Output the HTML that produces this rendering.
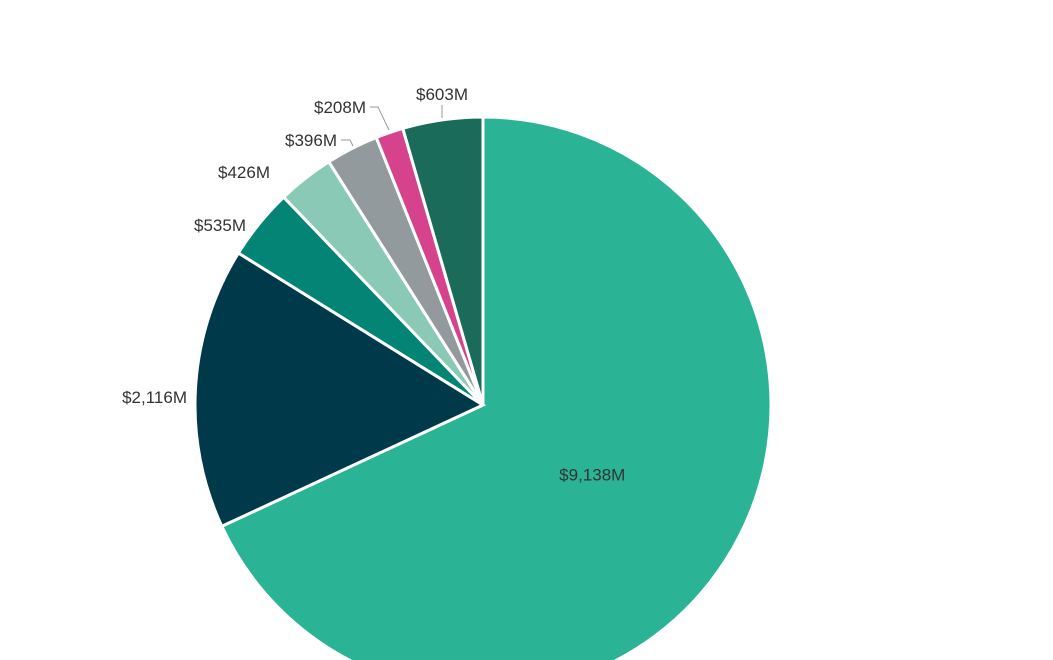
<!DOCTYPE html>
<html><head><meta charset="utf-8"><style>
body{margin:0;background:#fff;width:1053px;height:660px;overflow:hidden;font-family:"Liberation Sans",sans-serif}
svg{display:block}
</style></head><body>
<svg id="chart" width="1053" height="660" viewBox="0 0 1053 660"></svg>
<script>
const categories = ["A","B","C","D","E","F","G"];
const values = [9138, 2116, 535, 426, 396, 208, 603];
const labels = ["$9,138M","$2,116M","$535M","$426M","$396M","$208M","$603M"];
const colors = ["#2bb396","#003a4a","#038474","#8bc9b7","#939a9e","#d6438c","#1b6b5a"];
const cx = 483, cy = 405, r = 288;
const NS = "http://www.w3.org/2000/svg";
const svg = document.getElementById("chart");
const total = values.reduce((a,b)=>a+b,0);
function pt(a, rr){ return [cx + rr*Math.sin(a), cy - rr*Math.cos(a)]; }
let a0 = 0;
const labelPos = [];
values.forEach((v,i)=>{
  const a1 = a0 + v/total*2*Math.PI;
  const p0 = pt(a0,r), p1 = pt(a1,r);
  const large = (a1-a0) > Math.PI ? 1 : 0;
  const path = document.createElementNS(NS,"path");
  path.setAttribute("d",`M${cx},${cy} L${p0[0]},${p0[1]} A${r},${r} 0 ${large} 1 ${p1[0]},${p1[1]} Z`);
  path.setAttribute("fill",colors[i]);
  path.setAttribute("stroke","#fff");
  path.setAttribute("stroke-width","3");
  
  
  svg.appendChild(path);
  labelPos.push((a0+a1)/2);
  a0 = a1;
});
function addText(x,y,txt,anchor,i){
  const t = document.createElementNS(NS,"text");
  t.setAttribute("x",x); t.setAttribute("y",y);
  t.setAttribute("text-anchor",anchor);
  t.setAttribute("font-size","17");
  t.setAttribute("fill","#333");
  t.textContent = txt;
  
  
  svg.appendChild(t);
}
function addLine(pts){
  const l = document.createElementNS(NS,"polyline");
  l.setAttribute("points",pts.map(p=>p.join(",")).join(" "));
  l.setAttribute("fill","none"); l.setAttribute("stroke","#999"); l.setAttribute("stroke-width","1");
  
  
  svg.appendChild(l);
}
// big slice label inside
{ const m = labelPos[0]; const p = pt(m, r*0.45); addText(p[0], p[1]+6, labels[0], "middle", 0); }
// outside labels
const outer = [null,
  {x:187,y:403,anchor:"end"},
  {x:246,y:231,anchor:"end"},
  {x:270,y:178,anchor:"end"},
  {x:337,y:146,anchor:"end"},
  {x:366,y:113,anchor:"end"},
  {x:442,y:100,anchor:"middle"}];
for(let i=1;i<values.length;i++){
  const o = outer[i];
  addText(o.x,o.y,labels[i],o.anchor,i);
}
addLine([[341,140],[350,140],[353,146]]);
addLine([[370,107],[378,107],[389,130]]);
addLine([[442,105],[442,118]]);
</script>
</body></html>
